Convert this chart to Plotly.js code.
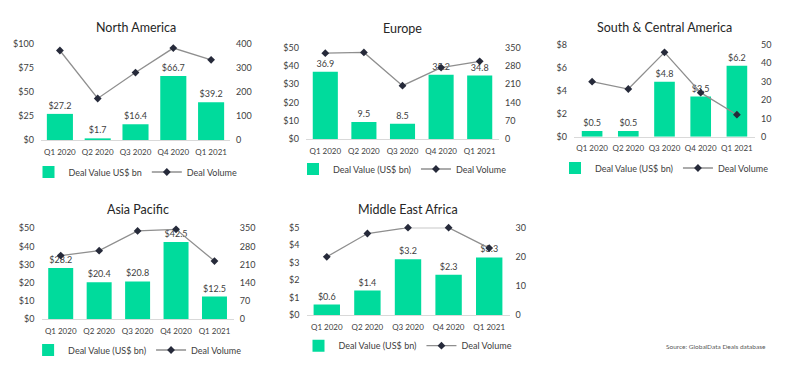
<!DOCTYPE html>
<html><head><meta charset="utf-8">
<script src="https://cdn.plot.ly/plotly-3.0.1.min.js"></script>
<style>html,body{margin:0;padding:0;background:#fff}#chart{width:800px;height:368px}</style>
</head><body><div id="chart"></div>
<script>
const quarters = ['Q1 2020','Q2 2020','Q3 2020','Q4 2020','Q1 2021'];

const naValue = [27.2, 1.7, 16.4, 66.7, 39.2];
const naVolume = [373, 173, 281, 383, 334];
const euValue = [36.9, 9.5, 8.5, 35.2, 34.8];
const euVolume = [329, 332, 205, 274, 298];
const scaValue = [0.5, 0.5, 4.8, 3.5, 6.2];
const scaVolume = [30, 26, 46, 24, 12];
const apValue = [28.2, 20.4, 20.8, 42.5, 12.5];
const apVolume = [245, 264, 340, 346, 224];
const meaValue = [0.6, 1.4, 3.2, 2.3, 3.3];
const meaVolume = [20, 28, 30, 30, 23];

const panelTitles = ['North America','Europe','South & Central America','Asia Pacific','Middle East Africa'];
const valueNames = ['Deal Value US$ bn','Deal Value (US$ bn)','Deal Value (US$ bn)','Deal Value (US$ bn)','Deal Value (US$ bn)'];
const volumeName = 'Deal Volume';

const W = 800, H = 368;
const FONT = 'Lato, "Open Sans", sans-serif';
const BAR = '#00DB9C';
const TXT = '#404040';

// layout geometry (pixels)
const panels = [
  {vals: naValue, vols: naVolume, x0: 41, x1: 230, y0: 44, y1: 140, vmax: 100, vd: 25, rmax: 400, rd: 100, bw: 0.69, tmpl: '$%{y:.1f}', titleY: 27, legY: 172},
  {vals: euValue, vols: euVolume, x0: 306, x1: 499, y0: 47.7, y1: 139.3, vmax: 50, vd: 10, rmax: 350, rd: 70, bw: 0.65, tmpl: '%{y:.1f}', titleY: 28, legY: 169},
  {vals: scaValue, vols: scaVolume, x0: 574, x1: 755, y0: 45, y1: 136.7, vmax: 8, vd: 2, rmax: 50, rd: 10, bw: 0.57, tmpl: '$%{y:.1f}', titleY: 27, legY: 168},
  {vals: apValue, vols: apVolume, x0: 41.5, x1: 233.7, y0: 228.3, y1: 319.3, vmax: 50, vd: 10, rmax: 350, rd: 70, bw: 0.65, tmpl: '$%{y:.1f}', titleY: 209, legY: 350},
  {vals: meaValue, vols: meaVolume, x0: 306.5, x1: 509.5, y0: 227.7, y1: 315, vmax: 5, vd: 1, rmax: 30, rd: 10, bw: 0.65, tmpl: '$%{y:.1f}', titleY: 209.3, legY: 345.7}
];

const data = [];
const layout = {
  width: W, height: H,
  margin: {l: 0, r: 0, t: 0, b: 0},
  paper_bgcolor: '#fff', plot_bgcolor: 'rgba(0,0,0,0)',
  font: {family: FONT, size: 9, color: TXT},
  barmode: 'group',
  annotations: [],
  showlegend: true
};

panels.forEach((p, i) => {
  const xi = i + 1;
  const xa = 'x' + (xi === 1 ? '' : xi);
  const yl = 2 * i + 1, yr = 2 * i + 2;
  const ya = 'y' + (yl === 1 ? '' : yl);
  const yb = 'y' + yr;
  const legKey = i === 0 ? 'legend' : 'legend' + (i + 1);

  data.push({
    type: 'bar', x: quarters, y: p.vals, xaxis: xa, yaxis: ya,
    name: valueNames[i], marker: {color: BAR}, width: p.bw,
    texttemplate: p.tmpl, textposition: 'outside', cliponaxis: false,
    textfont: {size: 9, color: TXT}, legend: legKey, hoverinfo: 'skip'
  });
  data.push({
    type: 'scatter', mode: 'lines+markers', x: quarters, y: p.vols, xaxis: xa, yaxis: yb,
    name: volumeName, line: {color: '#8f8f8f', width: 1.3},
    marker: {symbol: 'diamond', size: 6, color: '#262a3a'}, cliponaxis: false,
    legend: legKey, hoverinfo: 'skip'
  });

  const xdom = [p.x0 / W, p.x1 / W];
  const ydom = [1 - p.y1 / H, 1 - p.y0 / H];
  layout['xaxis' + (xi === 1 ? '' : xi)] = {
    domain: xdom, anchor: ya, showgrid: false, zeroline: false,
    showline: true, linecolor: '#d9d9d9', linewidth: 1, ticks: '', tickangle: 0,
    tickfont: {size: 8, color: TXT}, fixedrange: true, ticklabelstandoff: 4
  };
  layout['yaxis' + (yl === 1 ? '' : yl)] = {
    domain: ydom, anchor: xa, range: [0, p.vmax], dtick: p.vd, tick0: 0,
    tickprefix: '$', showgrid: false, zeroline: false, showline: false,
    ticks: '', tickfont: {size: 9, color: TXT}, fixedrange: true, ticklabelstandoff: 6
  };
  layout['yaxis' + yr] = {
    overlaying: ya, anchor: xa, side: 'right', range: [0, p.rmax], dtick: p.rd, tick0: 0,
    showgrid: false, zeroline: false, showline: false, ticks: '',
    tickfont: {size: 9, color: TXT}, fixedrange: true, ticklabelstandoff: 5
  };
  layout.annotations.push({
    text: panelTitles[i], xref: 'paper', yref: 'paper',
    x: (p.x0 + p.x1) / 2 / W, y: 1 - p.titleY / H, xanchor: 'center', yanchor: 'middle',
    showarrow: false, font: {size: 12.5, color: '#262626', family: FONT}
  });
  layout[legKey] = {
    orientation: 'h', x: (p.x0 + p.x1) / 2 / W, y: 1 - p.legY / H,
    xanchor: 'center', yanchor: 'middle', font: {size: 9, color: TXT},
    bgcolor: 'rgba(0,0,0,0)', itemwidth: 30, tracegroupgap: 0
  };
});

layout.annotations.push({
  text: 'Source: GlobalData Deals database', xref: 'paper', yref: 'paper',
  x: 768 / W, y: 1 - 346.7 / H, xanchor: 'right', yanchor: 'middle',
  showarrow: false, font: {size: 6.5, color: '#595959', family: FONT}
});

Plotly.newPlot('chart', data, layout, {staticPlot: true, displayModeBar: false});
</script></body></html>
